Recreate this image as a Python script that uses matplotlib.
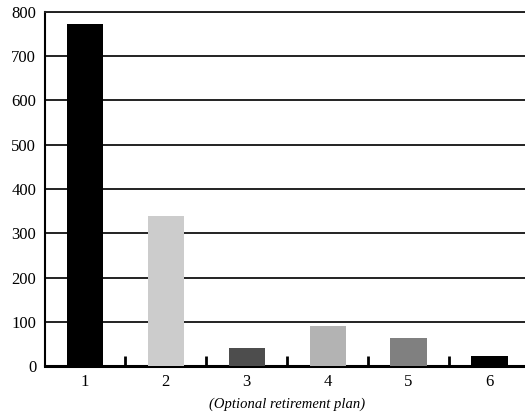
import matplotlib
matplotlib.use("Agg")
import matplotlib.pyplot as plt
import numpy as np

categories = ["1", "2", "3", "4", "5", "6"]
values = [773, 339, 41, 91, 64, 23]
bar_colors = ["#000000", "#cccccc", "#4d4d4d", "#b3b3b3", "#808080", "#000000"]
y_ticks = [0, 100, 200, 300, 400, 500, 600, 700, 800]
x_label = "(Optional retirement plan)"

plt.rcParams["font.family"] = ["Liberation Serif", "DejaVu Serif"]

W, H = 525, 419
fig = plt.figure(figsize=(W / 100, H / 100), dpi=100)
ax = fig.add_axes([44.5 / W, (H - 366) / H, (530 - 44.5) / W, (366 - 12) / H])

x = np.arange(1, len(categories) + 1)
ax.bar(x, values, width=0.45, color=bar_colors, zorder=3)

ax.set_xlim(0.5, len(categories) + 0.5)
ax.set_ylim(0, 800)
ax.set_yticks(y_ticks)
ax.set_yticklabels([str(v) for v in y_ticks], fontsize=12)
ax.set_xticks(x)
ax.set_xticklabels(categories, fontsize=12)
ax.set_xticks(x[:-1] + 0.5, minor=True)

ax.tick_params(axis="x", which="major", length=0, pad=6)
ax.tick_params(axis="x", which="minor", direction="in", length=7, width=2, color="black")
ax.tick_params(axis="y", length=0, pad=6)

ax.yaxis.grid(True, color="#222222", linewidth=1.4, zorder=0)
ax.set_axisbelow(True)

ax.spines["right"].set_visible(False)
ax.spines["top"].set_color("#222222")
ax.spines["top"].set_linewidth(1.4)
ax.spines["left"].set_linewidth(1.5)
ax.spines["bottom"].set_linewidth(2.2)

ax.set_xlabel(x_label, fontsize=10.5, style="italic", labelpad=5)

fig.savefig("out.png", dpi=100)
